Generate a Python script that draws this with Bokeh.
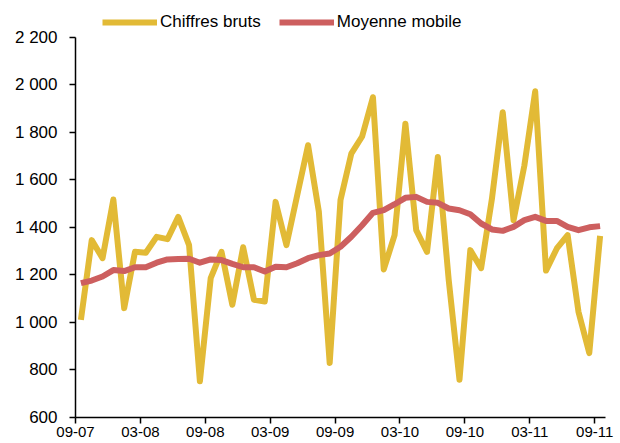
from bokeh.plotting import figure
from bokeh.models import Range1d, FixedTicker, Legend, LegendItem
from bokeh.embed import file_html
from bokeh.resources import INLINE
import numpy as np

# Monthly data, 09-2007 .. 09-2011
chiffres_bruts = [1011, 1346, 1270, 1517, 1060, 1297, 1293, 1360, 1350, 1444,
                  1325, 752, 1186, 1297, 1074, 1316, 1095, 1088, 1507, 1325,
                  1535, 1745, 1465, 829, 1515, 1710, 1782, 1947, 1223, 1367,
                  1836, 1388, 1297, 1696, 1180, 759, 1304, 1228, 1520, 1884,
                  1430, 1660, 1972, 1218, 1311, 1367, 1045, 871, 1364]
moyenne_mobile = [1165, 1176, 1193, 1220, 1216, 1232, 1232, 1251, 1265, 1267,
                  1268, 1251, 1265, 1262, 1246, 1232, 1232, 1214, 1234, 1232,
                  1249, 1270, 1283, 1290, 1318, 1360, 1409, 1461, 1472, 1497,
                  1524, 1528, 1507, 1503, 1479, 1472, 1455, 1416, 1391, 1385,
                  1402, 1430, 1444, 1427, 1427, 1402, 1388, 1400, 1405]
x_tick_labels = ["09-07", "03-08", "09-08", "03-09", "09-09",
                 "03-10", "09-10", "03-11", "09-11"]
y_ticks = [600, 800, 1000, 1200, 1400, 1600, 1800, 2000, 2200]
y_tick_labels = ["600", "800", "1 000", "1 200", "1 400", "1 600",
                 "1 800", "2 000", "2 200"]

n = len(chiffres_bruts)
x = np.arange(n) + 0.5          # centre of each monthly category
x_ticks = list(range(0, n, 6))  # category boundaries every 6 months

YELLOW = "#E2BA36"
RED = "#CD5F5F"
FONT = "Liberation Sans"

# frame spans the whole height so the legend (above 2 200) is not clipped;
# the y axis line itself is bounded to 600..2200
p = figure(width=620, height=443, output_backend="svg", toolbar_location=None,
           x_range=Range1d(0, n), y_range=Range1d(600, 2354),
           min_border_left=75, min_border_right=15,
           min_border_top=0, min_border_bottom=26)
p.outline_line_color = None
p.grid.visible = False
p.background_fill_color = "white"

r1 = p.line(x, chiffres_bruts, line_color=YELLOW, line_width=6, line_join="round")
r2 = p.line(x, moyenne_mobile, line_color=RED, line_width=6, line_join="round")

for ax in (p.xaxis[0], p.yaxis[0]):
    ax.axis_line_color = "black"
    ax.axis_line_width = 1.5
    ax.major_tick_line_color = "black"
    ax.major_tick_line_width = 1.5
    ax.major_tick_in = 0
    ax.minor_tick_line_color = None
    ax.major_label_text_font = FONT
    ax.major_label_text_color = "black"

p.xaxis.ticker = FixedTicker(ticks=x_ticks)
p.xaxis.major_label_overrides = {t: lab for t, lab in zip(x_ticks, x_tick_labels)}
p.xaxis.major_tick_out = 6
p.xaxis.major_label_standoff = 3
p.xaxis.major_label_text_font_size = "15px"

p.yaxis.ticker = FixedTicker(ticks=y_ticks)
p.yaxis.bounds = (600, 2200)
p.yaxis.major_label_overrides = {t: lab for t, lab in zip(y_ticks, y_tick_labels)}
p.yaxis.major_tick_out = 6
p.yaxis.major_label_standoff = 12
p.yaxis.major_label_text_font_size = "17px"

legend = Legend(items=[LegendItem(label="Chiffres bruts", renderers=[r1]),
                       LegendItem(label="Moyenne mobile", renderers=[r2])],
                orientation="horizontal", location=(27, 385),
                glyph_width=55, glyph_height=20, label_height=20,
                label_standoff=3, spacing=18, padding=0, margin=0,
                border_line_color=None, background_fill_alpha=0,
                label_text_font=FONT, label_text_font_size="17px",
                label_text_color="black")
p.add_layout(legend, "center")

open("out.html", "w").write(file_html(p, INLINE))
